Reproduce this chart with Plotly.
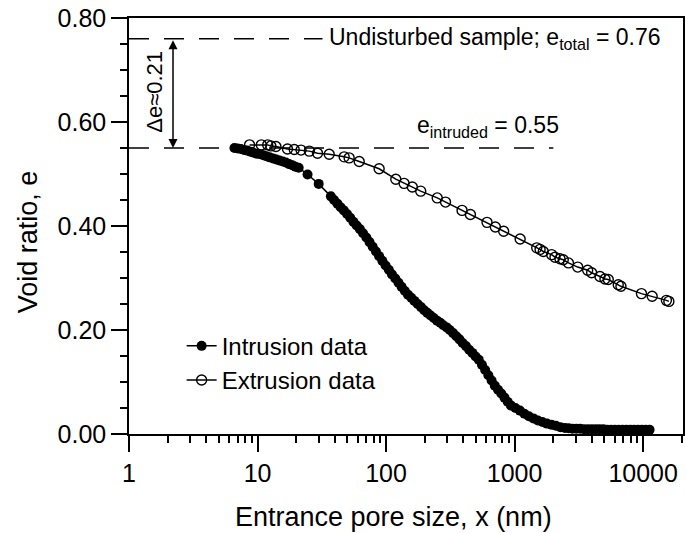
import numpy as np
import plotly.graph_objects as go

# Mercury intrusion porosimetry: void ratio vs entrance pore size
intrusion_size_nm = [
    6.61, 7.00, 7.42, 7.86, 8.32, 8.81, 9.34, 9.89, 10.5, 11.1, 11.7, 12.4, 13.2,
    14.0, 14.8, 15.7, 16.6, 17.6, 18.6, 19.7, 20.9,
    24.5, 29.9,
    37.2, 39.4, 41.8, 44.3, 46.9, 49.7, 52.6, 55.7, 59.0, 62.5, 66.2,
    70.2, 74.3, 78.7, 83.4, 88.3, 93.5, 99.1, 105, 111, 118, 125, 132,
    140, 148, 157, 166, 176, 187, 198, 209, 222, 235, 249, 264, 279, 296,
    313, 332, 352, 372, 394, 418, 443, 469, 497, 526,
    557, 590, 625, 662, 701, 743, 787, 834, 883, 935,
    1014, 1099, 1191, 1291, 1400, 1517, 1644, 1782, 1932, 2094, 2270, 2460,
    2630, 2818, 3020, 3236, 3467, 3715, 3981, 4266, 4571, 4898, 5248, 5623,
    6026, 6457, 6918, 7413, 7943, 8511, 9120, 9772, 10470, 11220,
]
intrusion_void_ratio = [
    0.550, 0.549, 0.548, 0.546, 0.545, 0.543, 0.541, 0.539, 0.538, 0.536, 0.534, 0.532, 0.530,
    0.528, 0.526, 0.524, 0.522, 0.519, 0.517, 0.514, 0.512,
    0.499, 0.481,
    0.457, 0.450, 0.443, 0.436, 0.430, 0.423, 0.416, 0.408, 0.401, 0.394, 0.386,
    0.378, 0.369, 0.360, 0.351, 0.342, 0.333, 0.324, 0.316, 0.307, 0.299, 0.291, 0.283,
    0.275, 0.268, 0.262, 0.256, 0.250, 0.244, 0.238, 0.233, 0.228, 0.223, 0.218, 0.214, 0.209, 0.205,
    0.200, 0.194, 0.188, 0.182, 0.175, 0.169, 0.162, 0.156, 0.149, 0.143,
    0.133, 0.123, 0.113, 0.103, 0.093, 0.085, 0.078, 0.070, 0.062, 0.055,
    0.050, 0.045, 0.039, 0.034, 0.030, 0.026, 0.023, 0.020, 0.018, 0.016, 0.013, 0.0115,
    0.011, 0.010, 0.010, 0.010, 0.009, 0.009, 0.009, 0.009, 0.009, 0.009, 0.008, 0.008,
    0.008, 0.008, 0.008, 0.008, 0.008, 0.008, 0.008, 0.008, 0.008, 0.008,
]

extrusion_size_nm = [
    8.67, 10.7, 12.0, 12.7, 13.9, 17.1, 19.3, 21.8, 25.3, 29.3, 36.1, 47.2, 51.6,
    61.8, 88.3, 119, 138, 160, 186, 250, 290, 390, 453, 610, 708, 822, 1104,
    1486, 1578, 1671, 1941, 2061, 2254, 2390, 2624, 3097, 3700, 3974, 4613,
    5044, 5354, 6400, 6718, 9700, 11750, 15170, 15850,
]
extrusion_void_ratio = [
    0.556, 0.556, 0.556, 0.554, 0.553, 0.548, 0.547, 0.546, 0.544, 0.540, 0.538, 0.533, 0.531,
    0.524, 0.510, 0.490, 0.482, 0.475, 0.467, 0.454, 0.446, 0.430, 0.422, 0.407, 0.398, 0.390, 0.375,
    0.358, 0.355, 0.351, 0.345, 0.340, 0.337, 0.335, 0.329, 0.321, 0.315, 0.310, 0.303,
    0.298, 0.297, 0.287, 0.284, 0.270, 0.265, 0.257, 0.255,
]

# Reference levels
e_total = 0.76
e_intruded = 0.55
delta_e = 0.21
total_line_x = [1, 32]
intruded_line_x = [1, 2000]
arrow_x = 2.2

x_tick_values = [1, 10, 100, 1000, 10000]
x_tick_labels = ["1", "10", "100", "1000", "10000"]
y_tick_values = [0.0, 0.2, 0.4, 0.6, 0.8]

FONT = "Liberation Sans, Arial, sans-serif"

fig = go.Figure()

# Dashed reference lines
for line_x, level in ((total_line_x, e_total), (intruded_line_x, e_intruded)):
    fig.add_trace(go.Scatter(
        x=line_x, y=[level, level], mode="lines", showlegend=False,
        line=dict(color="black", width=1.5, dash="20px,15px"), hoverinfo="skip",
    ))

fig.add_trace(go.Scatter(
    x=intrusion_size_nm, y=intrusion_void_ratio, mode="lines+markers",
    name="Intrusion data",
    line=dict(color="black", width=1.5),
    marker=dict(symbol="circle", size=10, color="black"),
    cliponaxis=False,
))
fig.add_trace(go.Scatter(
    x=extrusion_size_nm, y=extrusion_void_ratio, mode="lines+markers",
    name="Extrusion data",
    line=dict(color="black", width=1.5),
    marker=dict(symbol="circle-open", size=10, color="black", line=dict(width=1.4)),
    cliponaxis=False,
))

annotations = [
    dict(x=np.log10(arrow_x), y=e_intruded, ax=np.log10(arrow_x), ay=e_total,
         xref="x", yref="y", axref="x", ayref="y", text="", showarrow=True,
         arrowhead=2, startarrowhead=2, arrowside="end+start", arrowsize=1.2,
         startarrowsize=1.2, arrowwidth=1.5, arrowcolor="black", standoff=0, startstandoff=0),
    dict(x=0.2016, y=0.658, xref="x", yref="y", xanchor="center", yanchor="middle",
         text=f"Δe≈{delta_e:.2f}", textangle=-90,
         showarrow=False, font=dict(family=FONT, size=22, color="black")),
    dict(x=1.543, y=e_total, xref="x", yref="y", xanchor="left", yanchor="middle",
         text=f"Undisturbed sample; e<sub>total</sub> = {e_total:.2f}", showarrow=False,
         font=dict(family=FONT, size=23, color="black")),
    dict(x=2.795, y=e_intruded, xref="x", yref="y", xanchor="center", yanchor="bottom",
         yshift=5, text=f"e<sub>intruded</sub> = {e_intruded:.2f}", showarrow=False,
         font=dict(family=FONT, size=23, color="black")),
    # axis titles
    dict(x=-0.1817, y=0.4615, xref="paper", yref="paper", xanchor="center", yanchor="middle",
         text="Void ratio, e", textangle=-90, showarrow=False,
         font=dict(family=FONT, size=27, color="black")),
    dict(x=0.478, y=-0.1995, xref="paper", yref="paper", xanchor="center", yanchor="middle",
         text="Entrance pore size, x (nm)", showarrow=False,
         font=dict(family=FONT, size=27, color="black")),
]

fig.update_layout(
    width=686, height=533,
    margin=dict(l=129, r=1, t=18, b=99),
    paper_bgcolor="white", plot_bgcolor="white",
    font=dict(family=FONT, color="black"),
    annotations=annotations,
    legend=dict(x=0.095, y=0.265, xanchor="left", yanchor="top",
                bgcolor="rgba(0,0,0,0)", font=dict(family=FONT, size=24, color="black"),
                tracegroupgap=0),
    xaxis=dict(
        type="log", range=[0, 4.31],
        tickvals=x_tick_values, ticktext=x_tick_labels,
        ticks="outside", ticklen=16, tickwidth=1.5, tickcolor="black",
        showline=True, linewidth=1.5, linecolor="black", mirror=True,
        showgrid=False, zeroline=False,
        tickfont=dict(family=FONT, size=25, color="black"),
        minor=dict(dtick="D1", ticks="outside", ticklen=7, tickwidth=1.5,
                   tickcolor="black", showgrid=False),
    ),
    yaxis=dict(
        range=[0, 0.8], tickvals=y_tick_values, tickformat=".2f",
        ticks="outside", ticklen=16, tickwidth=1.5, tickcolor="black",
        showline=True, linewidth=1.5, linecolor="black", mirror=True,
        showgrid=False, zeroline=False,
        tickfont=dict(family=FONT, size=25, color="black"),
        minor=dict(dtick=0.05, ticks="outside", ticklen=7, tickwidth=1.5,
                   tickcolor="black", showgrid=False),
    ),
)

fig.write_html("out.html")
